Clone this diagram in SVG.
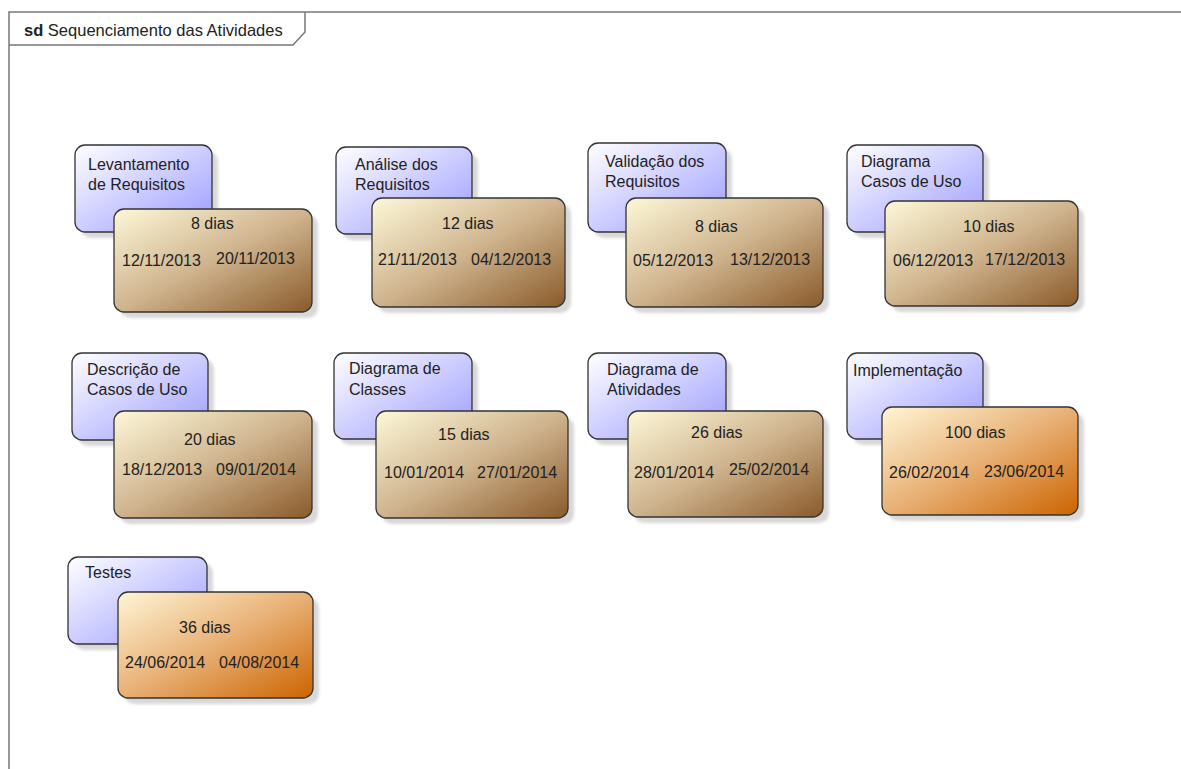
<svg xmlns="http://www.w3.org/2000/svg" width="1181" height="769" viewBox="0 0 1181 769">
<defs>
<linearGradient id="gBlue" x1="0" y1="0" x2="1" y2="1">
<stop offset="0" stop-color="#ffffff"/>
<stop offset="1" stop-color="#9a9aff"/>
</linearGradient>
<linearGradient id="gBrown" x1="0" y1="0" x2="1" y2="1">
<stop offset="0" stop-color="#fdf8d8"/>
<stop offset="0.5" stop-color="#cfb48e"/>
<stop offset="1" stop-color="#8a5a2a"/>
</linearGradient>
<linearGradient id="gOrange" x1="0" y1="0" x2="1" y2="1">
<stop offset="0" stop-color="#fef6d6"/>
<stop offset="0.5" stop-color="#e8b075"/>
<stop offset="1" stop-color="#cc6400"/>
</linearGradient>
<filter id="blur" x="-10%" y="-10%" width="120%" height="120%">
<feGaussianBlur stdDeviation="1.5"/>
</filter>
</defs>
<style>
.sh{fill:#d8d8d8;filter:url(#blur)}
.bl{fill:url(#gBlue);stroke:#333;stroke-width:1.3}
.br{fill:url(#gBrown);stroke:#333;stroke-width:1.3}
.or{fill:url(#gOrange);stroke:#333;stroke-width:1.3}
text{font-family:"Liberation Sans",Arial,sans-serif;font-size:16px;fill:#222}
.frame{fill:none;stroke:#777;stroke-width:1.5}
.title{font-size:16.5px}
</style>
<rect width="1181" height="769" fill="#fff"/>
<g id="frame">
<path class="frame" d="M9,769 V12 H1181"/>
<path class="frame" d="M9,45 H293 L305,32 V12"/>
<text class="title" x="24" y="36"><tspan font-weight="bold">sd</tspan> Sequenciamento das Atividades</text>
</g>
<g id="connectors"></g>

<g id="n1">
<rect class="sh" x="81" y="151" width="137" height="87" rx="10"/>
<rect class="bl" x="75" y="145" width="137" height="87" rx="10"/>
<text x="88" y="170">Levantamento</text>
<text x="88" y="190">de Requisitos</text>
<rect class="sh" x="120" y="215" width="198" height="103" rx="10"/>
<rect class="br" x="114" y="209" width="198" height="103" rx="10"/>
<text x="191" y="229">8 dias</text>
<text x="122" y="266">12/11/2013</text>
<text x="216" y="264">20/11/2013</text>
</g>

<g id="n2">
<rect class="sh" x="342" y="153" width="136" height="87" rx="10"/>
<rect class="bl" x="336" y="147" width="136" height="87" rx="10"/>
<text x="355" y="170">Análise dos</text>
<text x="355" y="190">Requisitos</text>
<rect class="sh" x="378" y="204" width="193" height="109" rx="10"/>
<rect class="br" x="372" y="198" width="193" height="109" rx="10"/>
<text x="442" y="229">12 dias</text>
<text x="378" y="265">21/11/2013</text>
<text x="471" y="265">04/12/2013</text>
</g>

<g id="n3">
<rect class="sh" x="594" y="149" width="138" height="89" rx="10"/>
<rect class="bl" x="588" y="143" width="138" height="89" rx="10"/>
<text x="605" y="167">Validação dos</text>
<text x="605" y="187">Requisitos</text>
<rect class="sh" x="632" y="204" width="197" height="109" rx="10"/>
<rect class="br" x="626" y="198" width="197" height="109" rx="10"/>
<text x="695" y="232">8 dias</text>
<text x="633" y="266">05/12/2013</text>
<text x="730" y="265">13/12/2013</text>
</g>

<g id="n4">
<rect class="sh" x="853" y="151" width="136" height="87" rx="10"/>
<rect class="bl" x="847" y="145" width="136" height="87" rx="10"/>
<text x="861" y="167">Diagrama</text>
<text x="861" y="187">Casos de Uso</text>
<rect class="sh" x="891" y="207" width="193" height="105" rx="10"/>
<rect class="br" x="885" y="201" width="193" height="105" rx="10"/>
<text x="963" y="232">10 dias</text>
<text x="893" y="266">06/12/2013</text>
<text x="985" y="265">17/12/2013</text>
</g>

<g id="n5">
<rect class="sh" x="78" y="359" width="136" height="87" rx="10"/>
<rect class="bl" x="72" y="353" width="136" height="87" rx="10"/>
<text x="87" y="375">Descrição de</text>
<text x="87" y="395">Casos de Uso</text>
<rect class="sh" x="120" y="417" width="198" height="107" rx="10"/>
<rect class="br" x="114" y="411" width="198" height="107" rx="10"/>
<text x="184" y="445">20 dias</text>
<text x="122" y="475">18/12/2013</text>
<text x="216" y="475">09/01/2014</text>
</g>

<g id="n6">
<rect class="sh" x="340" y="359" width="138" height="86" rx="10"/>
<rect class="bl" x="334" y="353" width="138" height="86" rx="10"/>
<text x="349" y="374">Diagrama de</text>
<text x="349" y="395">Classes</text>
<rect class="sh" x="382" y="417" width="192" height="107" rx="10"/>
<rect class="br" x="376" y="411" width="192" height="107" rx="10"/>
<text x="438" y="440">15 dias</text>
<text x="384" y="478">10/01/2014</text>
<text x="477" y="478">27/01/2014</text>
</g>

<g id="n7">
<rect class="sh" x="594" y="359" width="138" height="86" rx="10"/>
<rect class="bl" x="588" y="353" width="138" height="86" rx="10"/>
<text x="607" y="375">Diagrama de</text>
<text x="607" y="395">Atividades</text>
<rect class="sh" x="634" y="417" width="195" height="106" rx="10"/>
<rect class="br" x="628" y="411" width="195" height="106" rx="10"/>
<text x="691" y="438">26 dias</text>
<text x="634" y="478">28/01/2014</text>
<text x="729" y="475">25/02/2014</text>
</g>

<g id="n8">
<rect class="sh" x="853" y="359" width="136" height="86" rx="10"/>
<rect class="bl" x="847" y="353" width="136" height="86" rx="10"/>
<text x="853" y="376">Implementação</text>
<rect class="sh" x="888" y="413" width="196" height="108" rx="10"/>
<rect class="or" x="882" y="407" width="196" height="108" rx="10"/>
<text x="945" y="438">100 dias</text>
<text x="889" y="478">26/02/2014</text>
<text x="984" y="477">23/06/2014</text>
</g>

<g id="n9">
<rect class="sh" x="74" y="563" width="139" height="87" rx="10"/>
<rect class="bl" x="68" y="557" width="139" height="87" rx="10"/>
<text x="85" y="578">Testes</text>
<rect class="sh" x="124" y="598" width="195" height="106" rx="10"/>
<rect class="or" x="118" y="592" width="195" height="106" rx="10"/>
<text x="179" y="633">36 dias</text>
<text x="125" y="668">24/06/2014</text>
<text x="219" y="668">04/08/2014</text>
</g>
</svg>
